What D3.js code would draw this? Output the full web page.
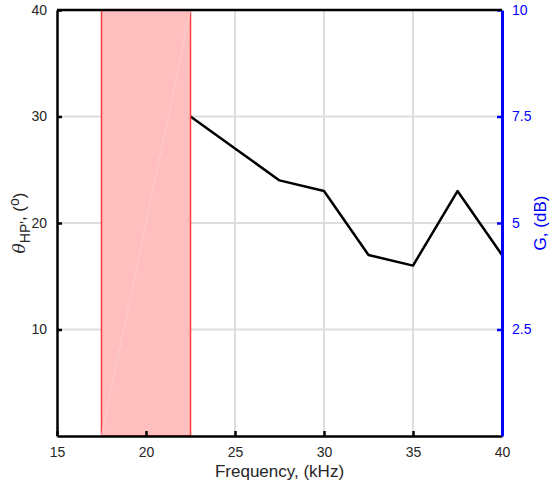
<!DOCTYPE html>
<html>
<head>
<meta charset="utf-8">
<script src="https://cdn.jsdelivr.net/npm/d3@7"></script>
<style>
  body { margin: 0; background: #fff; }
  svg { font-family: "Liberation Sans", Arial, sans-serif; }
</style>
</head>
<body>
<svg id="chart" width="552" height="482"></svg>
<script>
const freq = [22.5, 25, 27.5, 30, 32.5, 35, 37.5, 40];
const theta = [30, 27, 24, 23, 17, 16, 23, 17];
const band = [17.5, 22.5];
const xTicks = [15, 20, 25, 30, 35, 40];
const yTicks = [10, 20, 30, 40];
const y2Ticks = [2.5, 5, 7.5, 10];

const svg = d3.select("#chart");
const plotLeft = 57, plotRight = 502, plotTop = 10, plotBottom = 436;

const x = d3.scaleLinear().domain([15, 40]).range([plotLeft, plotRight]);
const y = d3.scaleLinear().domain([0, 40]).range([plotBottom, plotTop]);
const y2 = d3.scaleLinear().domain([0, 10]).range([plotBottom, plotTop]);

// grid
const grid = svg.append("g").attr("stroke", "#dedede").attr("stroke-width", 2);
xTicks.slice(1, -1).forEach((t) => {
  grid.append("line").attr("x1", x(t)).attr("x2", x(t)).attr("y1", plotTop).attr("y2", plotBottom);
});
yTicks.slice(0, -1).forEach((t) => {
  grid.append("line").attr("x1", plotLeft).attr("x2", plotRight).attr("y1", y(t)).attr("y2", y(t));
});

// data line
svg.append("path")
  .datum(freq.map((f, i) => [f, theta[i]]))
  .attr("fill", "none")
  .attr("stroke", "#000")
  .attr("stroke-width", 2.5)
  .attr("stroke-linejoin", "round")
  .attr("d", d3.line().x((d) => x(d[0])).y((d) => y(d[1])));

// shaded band
svg.append("rect")
  .attr("x", x(band[0]))
  .attr("y", y(40))
  .attr("width", x(band[1]) - x(band[0]))
  .attr("height", y(0) - y(40))
  .attr("fill", "#ffbfbf")
  .attr("stroke", "#ff3c3c")
  .attr("stroke-width", 1.5);
svg.append("line")
  .attr("x1", x(band[0])).attr("y1", y(0))
  .attr("x2", x(band[1])).attr("y2", y(40))
  .attr("stroke", "#ffcfcf").attr("stroke-width", 1);

// axes
const xAxis = svg.append("g")
  .attr("transform", `translate(0,${plotBottom})`)
  .call(d3.axisBottom(x).tickValues(xTicks).tickSizeInner(-5).tickSizeOuter(0).tickPadding(11));
const yAxis = svg.append("g")
  .attr("transform", `translate(${plotLeft},0)`)
  .call(d3.axisLeft(y).tickValues(yTicks).tickSizeInner(-5).tickSizeOuter(0).tickPadding(10));
const y2Axis = svg.append("g")
  .attr("transform", `translate(${plotRight},0)`)
  .call(d3.axisRight(y2).tickValues(y2Ticks).tickFormat(d3.format("")).tickSizeInner(-5).tickSizeOuter(0).tickPadding(10));

[xAxis, yAxis].forEach((g) => {
  g.select(".domain").attr("stroke", "#000").attr("stroke-width", 2.5);
  g.selectAll(".tick line").attr("stroke", "#000").attr("stroke-width", 2.5);
  g.selectAll("text").attr("fill", "#262626").attr("font-size", 14);
});
y2Axis.select(".domain").attr("stroke", "#0000ff").attr("stroke-width", 3);
y2Axis.selectAll(".tick line").attr("stroke", "#0000ff").attr("stroke-width", 2.5);
y2Axis.selectAll("text").attr("fill", "#0000ff").attr("font-size", 14);

// top border
svg.append("line")
  .attr("x1", plotLeft).attr("x2", plotRight).attr("y1", plotTop).attr("y2", plotTop)
  .attr("stroke", "#000").attr("stroke-width", 2.5);

// labels
svg.append("text")
  .attr("x", (plotLeft + plotRight) / 2).attr("y", 477)
  .attr("text-anchor", "middle").attr("font-size", 17).attr("fill", "#262626")
  .text("Frequency, (kHz)");

const yl = svg.append("text")
  .attr("transform", `translate(25,${(plotTop + plotBottom) / 2}) rotate(-90)`)
  .attr("text-anchor", "middle").attr("font-size", 17).attr("fill", "#262626");
yl.append("tspan").attr("font-family", "DejaVu Serif").attr("font-style", "italic").text("θ");
yl.append("tspan").attr("dy", 5).attr("font-size", 14).text("HP'");
yl.append("tspan").attr("dy", -5).text(", (");
yl.append("tspan").attr("dy", -6).attr("font-size", 14).text("o");
yl.append("tspan").attr("dy", 6).text(")");

svg.append("text")
  .attr("transform", `translate(546,${(plotTop + plotBottom) / 2}) rotate(-90)`)
  .attr("text-anchor", "middle").attr("font-size", 17).attr("fill", "#0000ff")
  .text("G, (dB)");
</script>
</body>
</html>
